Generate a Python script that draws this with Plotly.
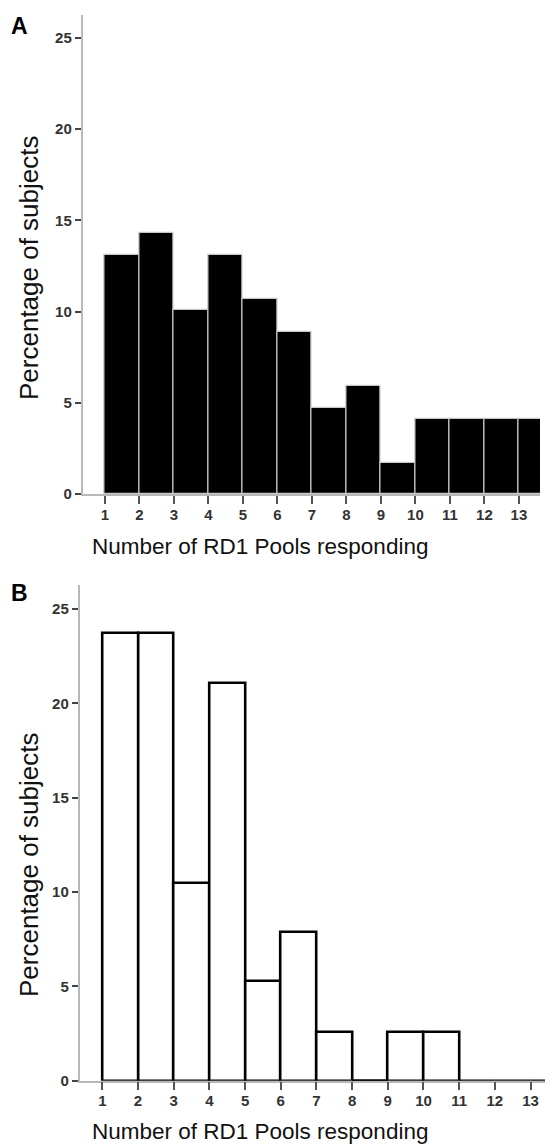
import plotly.graph_objects as go

# ---- data ----
bins = [1, 2, 3, 4, 5, 6, 7, 8, 9, 10, 11, 12, 13]
pct_a = [13.1, 14.3, 10.1, 13.1, 10.7, 8.9, 4.7, 5.9, 1.7, 4.1, 4.1, 4.1, 4.1]
pct_b = [23.7, 23.7, 10.5, 21.1, 5.3, 7.9, 2.6, 0.0, 2.6, 2.6, 0.0, 0.0, 0.0]
x_ticks = [1, 2, 3, 4, 5, 6, 7, 8, 9, 10, 11, 12, 13]
y_ticks = [0, 5, 10, 15, 20, 25]
panel_labels = ["A", "B"]
x_title = "Number of RD1 Pools responding"
y_title = "Percentage of subjects"

# page has an 8px body margin: figure is drawn 8px in from the window corner
OFF = 8
W, H = 553 - OFF, 1144 - OFF
TICKFONT = dict(family="Liberation Sans Narrow, Liberation Sans, Arial", size=15,
                color="#333333", weight="bold")
TITLEFONT = "Liberation Sans, Arial, Helvetica"


def fx(x):
    """window pixel x -> paper fraction"""
    return (x - OFF) / W


def fy(y):
    """window pixel y (from top) -> paper fraction (from bottom)"""
    return 1 - (y - OFF) / H


fig = go.Figure()

# Panel A: filled black bars
fig.add_trace(go.Bar(
    x=bins, y=pct_a, width=1, offset=0,
    marker=dict(color="black", line=dict(color="#c8c8c8", width=1.2)),
    xaxis="x", yaxis="y", showlegend=False, hoverinfo="skip",
))

# Panel B: open bars
fig.add_trace(go.Bar(
    x=bins, y=pct_b, width=1, offset=0,
    marker=dict(color="white", line=dict(color="black", width=2.6)),
    xaxis="x2", yaxis="y2", showlegend=False, hoverinfo="skip",
))

# zero-height bins inside the observed range of panel B drawn as a baseline stroke
last_nz = max(b for b, v in zip(bins, pct_b) if v > 0)
for b, v in zip(bins, pct_b):
    if v == 0 and b < last_nz:
        fig.add_trace(go.Scatter(
            x=[b, b + 1], y=[v, v], mode="lines",
            line=dict(color="black", width=2.6),
            xaxis="x2", yaxis="y2", showlegend=False, hoverinfo="skip",
            cliponaxis=False,
        ))

xaxis_common = dict(
    tickmode="array", tickvals=x_ticks, ticktext=[str(t) for t in x_ticks],
    showline=True, linecolor="#b8b8b8", linewidth=1.5,
    ticks="outside", ticklen=8, tickwidth=2, tickcolor="#555555",
    ticklabelstandoff=-2,
    tickfont=TICKFONT, showgrid=False, zeroline=False, fixedrange=True,
    automargin=False,
)
yaxis_common = dict(
    tickmode="array", tickvals=y_ticks, ticktext=[str(t) for t in y_ticks],
    showline=True, linecolor="#b8b8b8", linewidth=1.5,
    ticks="outside", ticklen=6, tickwidth=2, tickcolor="#444444",
    tickfont=TICKFONT, showgrid=False, zeroline=False, fixedrange=True,
    automargin=False,
)

fig.update_layout(
    width=W, height=H,
    margin=dict(l=0, r=0, t=0, b=0, autoexpand=False),
    paper_bgcolor="white", plot_bgcolor="white",
    bargap=0,
    xaxis=dict(xaxis_common, domain=[fx(82.5), fx(540)], range=[0.35, 13.61], anchor="y"),
    yaxis=dict(yaxis_common, domain=[fy(494), fy(15)], range=[0, 26.26], anchor="x"),
    xaxis2=dict(xaxis_common, domain=[fx(79.5), 1.0], range=[0.36, 13.63], anchor="y2"),
    yaxis2=dict(yaxis_common, domain=[fy(1080.7), fy(585)], range=[0, 26.27], anchor="x2"),
)

annos = []
# panel letters
for lab, yc in zip(panel_labels, [26.5, 592.5]):
    annos.append(dict(text=f"<b>{lab}</b>", x=fx(9), y=fy(yc), xref="paper", yref="paper",
                      xanchor="left", yanchor="middle", showarrow=False,
                      font=dict(family=TITLEFONT, size=23, color="black")))
# y titles
for yc in [268, 865]:
    annos.append(dict(text=y_title, x=fx(29), y=fy(yc), xref="paper", yref="paper",
                      xanchor="center", yanchor="middle", textangle=-90, showarrow=False,
                      font=dict(family=TITLEFONT, size=26, color="#111111")))
# x titles
for yc in [546, 1131]:
    annos.append(dict(text=x_title, x=fx(260), y=fy(yc), xref="paper", yref="paper",
                      xanchor="center", yanchor="middle", showarrow=False,
                      font=dict(family=TITLEFONT, size=22.5, color="#111111")))
fig.update_layout(annotations=annos)

fig.write_html("out.html")
